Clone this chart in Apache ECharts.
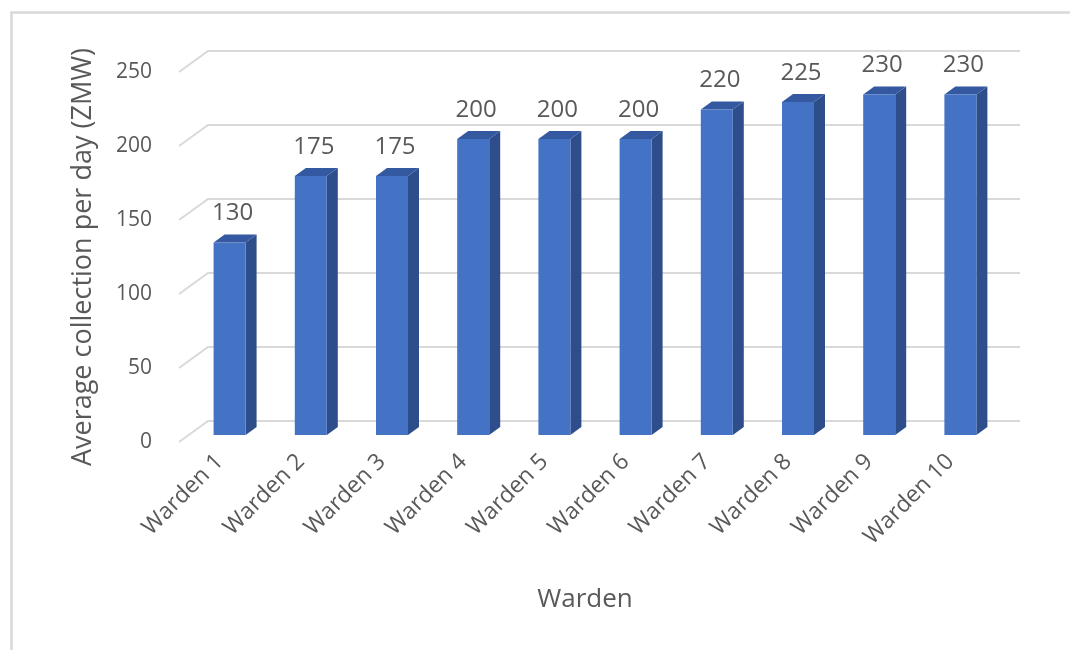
<!DOCTYPE html>
<html>
<head>
<meta charset="utf-8">
<script src="https://cdn.jsdelivr.net/npm/echarts@6/dist/echarts.min.js"></script>
<style>
html,body{margin:0;padding:0;background:#fff;}
#chart{width:1070px;height:650px;}
</style>
</head>
<body>
<div id="chart"></div>
<script>
var wardens = ['Warden 1','Warden 2','Warden 3','Warden 4','Warden 5','Warden 6','Warden 7','Warden 8','Warden 9','Warden 10'];
var collections = [130, 175, 175, 200, 200, 200, 220, 225, 230, 230];
var yTicks = [0, 50, 100, 150, 200, 250];

var chart = echarts.init(document.getElementById('chart'));

// pseudo 3d: back wall and bar depth offsets (px)
var wallDx = 29, wallDy = -21;
var barDx = 10, barDy = -7, barW = 32, sideDx = 11, sideDy = -8;
var font = '"Open Sans", "DejaVu Sans", sans-serif';

function renderGrid(params, api) {
    var v = api.value(1);
    var a = api.coord([0, v]);
    var b = api.coord([wardens.length, v]);
    return {
        type: 'polyline',
        shape: {points: [[a[0], a[1]], [a[0] + wallDx, a[1] + wallDy], [b[0] + wallDx, b[1] + wallDy]]},
        style: {stroke: '#d9d9d9', lineWidth: 2, fill: null}
    };
}

function renderBar(params, api) {
    var i = api.value(0), v = api.value(1);
    var top = api.coord([i + 0.5, v]);
    var base = api.coord([i + 0.5, 0]);
    var x0 = top[0] + barDx - barW / 2, x1 = x0 + barW;
    var yT = top[1] + barDy, yB = base[1] + barDy;
    return {
        type: 'group',
        children: [
            {type: 'polygon', shape: {points: [[x1, yT], [x1 + sideDx, yT + sideDy], [x1 + sideDx, yB + sideDy], [x1, yB]]}, style: {fill: '#2E4E8B'}},
            {type: 'polygon', shape: {points: [[x0, yT], [x0 + sideDx, yT + sideDy], [x1 + sideDx, yT + sideDy], [x1, yT]]}, style: {fill: '#3459A0'}},
            {type: 'rect', shape: {x: x0, y: yT, width: barW, height: yB - yT}, style: {fill: '#4472C4'}},
            {type: 'text', x: (x0 + x1) / 2 + 3, y: yT - 29, style: {
                text: String(v), align: 'center', verticalAlign: 'middle',
                fontSize: 24, fontFamily: font, fill: '#595959'
            }}
        ]
    };
}

var option = {
    animation: false,
    backgroundColor: '#fff',
    graphic: [{
        type: 'rect', left: 9, top: 10,
        shape: {width: 1200, height: 800},
        style: {fill: null, stroke: '#d9d9d9', lineWidth: 2.5}
    }],
    grid: {left: 179, top: 72, width: 812, height: 370},
    xAxis: [{
        type: 'category',
        data: wardens,
        name: 'Warden',
        nameLocation: 'middle',
        nameGap: 145,
        nameTextStyle: {fontSize: 26, color: '#595959', fontFamily: font},
        axisLine: {show: false},
        axisTick: {show: false},
        axisLabel: {rotate: 45, interval: 0, margin: 16, fontSize: 23, color: '#595959', fontFamily: font}
    }, {
        type: 'value', min: 0, max: wardens.length, show: false
    }],
    yAxis: {
        type: 'value',
        min: 0, max: 250, interval: 50,
        name: 'Average collection per day (ZMW)',
        nameLocation: 'middle',
        nameGap: 82,
        nameTextStyle: {fontSize: 27, color: '#595959', fontFamily: font},
        axisLine: {show: false},
        axisTick: {show: false},
        splitLine: {show: false},
        axisLabel: {margin: 27, fontSize: 21, color: '#595959', fontFamily: font}
    },
    series: [{
        type: 'custom',
        xAxisIndex: 1,
        z: 1,
        renderItem: renderGrid,
        data: yTicks.map(function (v) { return [0, v]; })
    }, {
        type: 'custom',
        xAxisIndex: 1,
        z: 2,
        renderItem: renderBar,
        data: collections.map(function (v, i) { return [i, v]; })
    }]
};
chart.setOption(option);
</script>
</body>
</html>
